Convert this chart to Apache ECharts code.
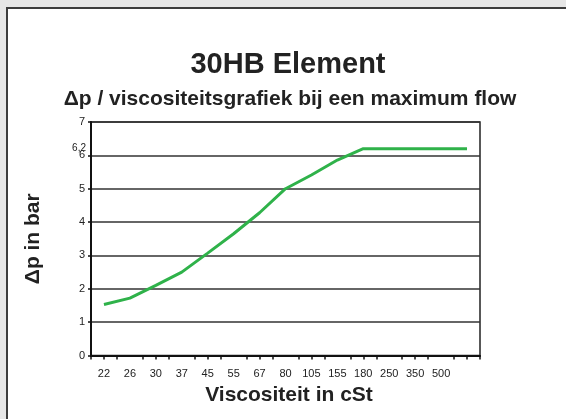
<!DOCTYPE html>
<html>
<head>
<meta charset="utf-8">
<script src="https://cdn.jsdelivr.net/npm/echarts@6/dist/echarts.min.js"></script>
<style>
  html, body { margin: 0; padding: 0; background: #e6e6e6; }
  #panel { position: absolute; left: 6px; top: 7px; width: 600px; height: 450px; background: #fff; border-left: 2px solid #3c3c3c; border-top: 2px solid #3c3c3c; box-sizing: border-box; }
  #chart { position: absolute; left: 0; top: 0; width: 566px; height: 419px; }
</style>
</head>
<body>
<div id="panel"></div>
<div id="chart"></div>
<script>
// viscositeit (cSt) categorieen, laatste is leeg
const viscosity = ['22', '26', '30', '37', '45', '55', '67', '80', '105', '155', '180', '250', '350', '500', '']
// drukverschil in bar
const deltaP = [1.53, 1.72, 2.1, 2.5, 3.07, 3.65, 4.28, 5.0, 5.41, 5.86, 6.2, 6.2, 6.2, 6.2, 6.2]
const plateau = 6.2

const font = 'Liberation Sans, Arial, sans-serif'
const narrow = 'Liberation Sans Narrow, Liberation Sans, Arial, sans-serif'

const chart = echarts.init(document.getElementById('chart'))
chart.setOption({
  animation: false,
  title: [{
    text: '30HB Element',
    left: 283,
    textAlign: 'center',
    top: 45,
    textStyle: { fontFamily: font, fontSize: 29, fontWeight: 'bold', color: '#222' }
  }, {
    text: 'Δp / viscositeitsgrafiek bij een maximum flow',
    left: 285,
    textAlign: 'center',
    top: 84,
    textStyle: { fontFamily: font, fontSize: 21, fontWeight: 'bold', color: '#222' }
  }],
  grid: {
    left: 91,
    right: 86,
    top: 122,
    bottom: 63.5,
    show: true,
    borderColor: '#222',
    borderWidth: 1.5
  },
  xAxis: [{
    type: 'category',
    data: viscosity,
    boundaryGap: true,
    name: 'Viscositeit in cSt',
    nameLocation: 'middle',
    nameGap: 27,
    nameTextStyle: { fontFamily: font, fontSize: 21, fontWeight: 'bold', color: '#222', padding: [0, 0, 0, 7] },
    axisLine: { lineStyle: { color: '#111', width: 2 } },
    axisTick: { show: true, length: 4, lineStyle: { color: '#111', width: 1.5 } },
    axisLabel: { interval: 0, margin: 13, fontFamily: narrow, fontSize: 11, color: '#222' }
  }, {
    // tussenliggende streepjes op de categoriemiddens
    type: 'category',
    data: viscosity,
    position: 'bottom',
    axisLine: { show: false },
    axisTick: { show: true, alignWithLabel: true, length: 4, lineStyle: { color: '#111', width: 1.5 } },
    axisLabel: { show: false }
  }],
  yAxis: {
    type: 'value',
    min: 0,
    max: 7,
    interval: 1,
    name: 'Δp in bar',
    nameLocation: 'middle',
    nameRotate: 90,
    nameGap: 47,
    nameTextStyle: { fontFamily: font, fontSize: 21, fontWeight: 'bold', color: '#222' },
    axisLine: { show: true, lineStyle: { color: '#111', width: 2 } },
    axisTick: { show: true, length: 3, lineStyle: { color: '#111', width: 1.5 } },
    axisLabel: { margin: 6, fontFamily: narrow, fontSize: 11, color: '#222' },
    splitLine: { lineStyle: { color: '#333', width: 1.5 } }
  },
  series: [{
    type: 'line',
    data: deltaP,
    showSymbol: false,
    lineStyle: { color: '#2fb24a', width: 3 },
    itemStyle: { color: '#2fb24a' },
    markLine: {
      silent: true,
      symbol: 'none',
      lineStyle: { color: 'rgba(0,0,0,0)', width: 0 },
      label: {
        show: true,
        position: 'start',
        formatter: '6,2',
        distance: 5,
        fontFamily: narrow,
        fontSize: 10,
        color: '#222'
      },
      data: [{ yAxis: plateau }]
    }
  }]
})
</script>
</body>
</html>
